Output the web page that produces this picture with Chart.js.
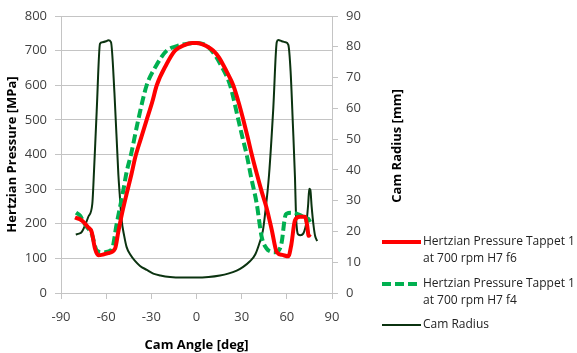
<!DOCTYPE html>
<html>
<head>
<meta charset="utf-8">
<script src="https://cdn.jsdelivr.net/npm/chart.js@4"></script>
<style>
  html, body { margin: 0; padding: 0; background: #fff; }
  #wrap { width: 577px; height: 353px; }
</style>
</head>
<body>
<div id="wrap"><canvas id="camChart" width="577" height="353"></canvas></div>
<script>
// Hertzian pressure, tappet 1 at 700 rpm, H7 f6 (MPa)
const angleF6 = [-80.7, -76.3, -72, -69.6, -67.4, -65.2, -62, -58.6, -54.1, -52, -49.7, -46.5, -43.1, -40.8, -37, -33.1, -29.5, -26.4, -20, -14.3, -8, -3, 0, 4, 8, 11.2, 15, 20, 24.4, 28, 31.1, 34, 36.7, 40, 43.5, 46.6, 50, 53.3, 57, 61, 63, 65.4, 68.7, 72, 73.5, 74.5, 75.5];
const pressureF6 = [218, 210, 190, 176, 128, 109, 111, 115, 128, 175, 225, 285, 345, 390, 445, 500, 550, 600, 660, 700, 716, 722, 722, 718, 710, 700, 680, 640, 600, 550, 500, 450, 400, 345, 290, 245, 182, 118, 110, 106, 140, 210, 220, 220, 195, 165, 170];

// Hertzian pressure, tappet 1 at 700 rpm, H7 f4 (MPa)
const angleF4 = [-80, -77.4, -75, -72.9, -69.6, -66.3, -63, -60.8, -56.3, -53, -48.6, -46.4, -43.5, -38.7, -33.1, -27, -19.8, -13, -6, 0, 5, 10.1, 16, 22.3, 27.8, 30.5, 33.3, 36.5, 40, 43.3, 46.6, 49, 52.1, 55, 56.6, 58.8, 59.9, 63, 66.6, 70.9, 73, 74, 75.5];
const pressureF4 = [232, 224, 205, 191, 171, 123, 118, 118, 125, 200, 297, 350, 400, 500, 600, 655, 700, 713, 720, 722, 718, 700, 660, 600, 500, 450, 400, 330, 258, 162, 128, 120, 118, 125, 147, 220, 229, 232, 229, 220, 210, 215, 205];

// cam radius (mm)
const angleCam = [-80.2, -78, -76.3, -74, -71.9, -69.2, -68.5, -66.3, -64.1, -62.5, -60, -58.6, -56.8, -54.5, -51.9, -51, -49.7, -48, -46.4, -44, -41, -37.5, -33, -28.7, -24, -17.6, -10, 0, 8, 15.6, 21, 26.7, 31, 35.5, 39, 42, 44, 45.5, 48.2, 51, 53.3, 54.3, 56.6, 59, 61, 62.5, 64, 65.4, 66.1, 66.8, 67.6, 69, 70.9, 72.2, 73.2, 74.2, 74.9, 75.6, 76.5, 77.6, 78.8, 80.2];
const radiusCam = [19.0, 19.3, 19.8, 22, 24.7, 29, 35, 59, 81, 81.5, 81.8, 82.1, 81.5, 65, 38.5, 32, 23.6, 18.5, 14.9, 12.5, 10.5, 8.8, 7.5, 6.3, 5.7, 5.2, 5.0, 5.0, 5.2, 5.7, 6.3, 7.3, 8.5, 10.3, 12.5, 16.5, 20, 25.5, 38.5, 60, 81.5, 82.2, 81.8, 81.5, 80.6, 72, 55, 37.7, 25, 20.3, 19, 18.8, 19.3, 21, 23.6, 29, 33.9, 33.5, 28, 22.5, 18.5, 16.9];

const xTicks = [-90, -60, -30, 0, 30, 60, 90];

const legendItems = [
  { lines: ['Hertzian Pressure Tappet 1', 'at 700 rpm H7 f6'], color: '#ff0000', width: 4, dash: [] },
  { lines: ['Hertzian Pressure Tappet 1', 'at 700 rpm H7 f4'], color: '#00b050', width: 4, dash: [9, 4] },
  { lines: ['Cam Radius'], color: '#0b3310', width: 2, dash: [] }
];

function pts(xs, ys) {
  return xs.map((x, i) => ({ x: x, y: ys[i] }));
}

const gridColor = '#c4c4c4';
const tickFont = { family: 'Open Sans', size: 13 };
const tickColor = '#404040';

// legend + right axis title drawn by hand so they sit where the original has them
const sidePlugin = {
  id: 'sideBits',
  afterDraw(chart) {
    const ctx = chart.ctx;
    ctx.save();
    // right axis title
    ctx.translate(397, 146);
    ctx.rotate(-Math.PI / 2);
    ctx.font = 'bold 13px "Open Sans"';
    ctx.fillStyle = '#000';
    ctx.textAlign = 'center';
    ctx.textBaseline = 'middle';
    ctx.fillText('Cam Radius [mm]', 0, 0);
    ctx.restore();

    ctx.save();
    ctx.font = '12px "Open Sans"';
    ctx.fillStyle = '#222';
    ctx.textBaseline = 'middle';
    const ys = [242, 284, 325];
    legendItems.forEach((it, i) => {
      const y = ys[i];
      ctx.beginPath();
      ctx.strokeStyle = it.color;
      ctx.lineWidth = it.width;
      ctx.setLineDash(it.dash);
      ctx.moveTo(382, y);
      ctx.lineTo(421, y);
      ctx.stroke();
      ctx.setLineDash([]);
      it.lines.forEach((t, j) => ctx.fillText(t, 423, y + j * 17));
    });
    ctx.restore();
  }
};

const ctx = document.getElementById('camChart').getContext('2d');
const camChart = new Chart(ctx, {
  type: 'line',
  data: {
    datasets: [
      {
        label: 'Hertzian Pressure Tappet 1 at 700 rpm H7 f6',
        data: pts(angleF6, pressureF6),
        borderColor: '#ff0000',
        borderWidth: 4,
        pointRadius: 0,
        cubicInterpolationMode: 'monotone',
        yAxisID: 'y'
      },
      {
        label: 'Hertzian Pressure Tappet 1 at 700 rpm H7 f4',
        data: pts(angleF4, pressureF4),
        borderColor: '#00b050',
        borderWidth: 4,
        borderDash: [9, 4],
        pointRadius: 0,
        cubicInterpolationMode: 'monotone',
        yAxisID: 'y'
      },
      {
        label: 'Cam Radius',
        data: pts(angleCam, radiusCam),
        borderColor: '#0b3310',
        borderWidth: 2,
        pointRadius: 0,
        cubicInterpolationMode: 'monotone',
        yAxisID: 'y1'
      }
    ]
  },
  options: {
    responsive: false,
    animation: false,
    layout: { padding: { top: 16, right: 165, left: 0, bottom: 0 } },
    plugins: {
      legend: { display: false },
      tooltip: { enabled: false }
    },
    scales: {
      x: {
        type: 'linear',
        min: -90,
        max: 90,
        afterBuildTicks: s => { s.ticks = xTicks.map(v => ({ value: v })); },
        afterFit: s => { s.height = 60; },
        grid: { drawOnChartArea: false, drawTicks: true, tickLength: 6, color: gridColor },
        border: { color: gridColor },
        ticks: { font: tickFont, color: tickColor, padding: 10, maxRotation: 0 },
        title: { display: true, text: 'Cam Angle [deg]', font: { family: 'Open Sans', size: 13, weight: 'bold' }, color: '#000', padding: 0 }
      },
      y: {
        position: 'left',
        min: 0,
        max: 800,
        ticks: { stepSize: 100, font: tickFont, color: tickColor, padding: 8 },
        afterFit: s => { s.width = 61; },
        grid: { color: gridColor, tickLength: 6 },
        border: { color: gridColor },
        title: { display: true, text: 'Hertzian Pressure [MPa]', font: { family: 'Open Sans', size: 13, weight: 'bold' }, color: '#000', padding: { top: 4, bottom: 0 } }
      },
      y1: {
        position: 'right',
        min: 0,
        max: 90,
        ticks: { stepSize: 10, font: tickFont, color: tickColor, padding: 8 },
        afterFit: s => { s.width = 80; },
        grid: { drawOnChartArea: false, color: gridColor, tickLength: 6 },
        border: { color: gridColor }
      }
    }
  },
  plugins: [sidePlugin]
});
</script>
</body>
</html>
